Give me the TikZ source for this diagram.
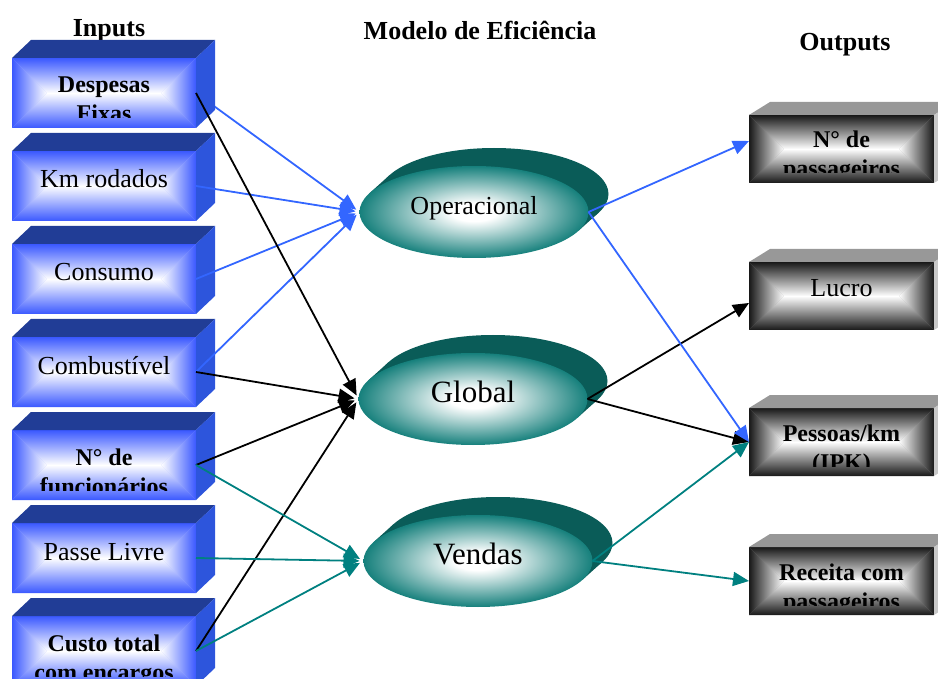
\documentclass[tikz,border=0pt]{standalone}
\usepackage{fontspec}
\setmainfont{Liberation Serif}
\usepackage{tikz}
\usetikzlibrary{positioning,shapes.geometric,arrows.meta,backgrounds}

\definecolor{inedge}{RGB}{58,88,255}
\definecolor{intop}{RGB}{33,61,150}
\definecolor{inside}{RGB}{45,85,220}
\definecolor{outedge}{RGB}{24,24,24}
\definecolor{outtop}{RGB}{152,152,152}
\definecolor{outside}{RGB}{200,200,200}
\definecolor{discrim}{RGB}{22,128,124}
\definecolor{discbody}{RGB}{10,92,88}
\definecolor{lnblue}{RGB}{51,102,255}
\definecolor{lnteal}{RGB}{0,128,128}

% white centre fading out to the edge colour (the path spans 25bp..75bp)
\pgfdeclareverticalshading[faceedge]{facefade}{100bp}{color(0bp)=(white); color(25bp)=(white); color(75bp)=(faceedge); color(100bp)=(faceedge)}
\pgfdeclareradialshading{discfade}{\pgfpoint{0bp}{0bp}}{color(0bp)=(white); color(5bp)=(white); color(25bp)=(discrim); color(50bp)=(discrim)}

% front face: four pieces, each faded towards its own edge
\newcommand{\facefill}[1]{%
  \colorlet{faceedge}{#1}%
  \fill[#1!45!white] (path picture bounding box.south west) rectangle (path picture bounding box.north east);
  \shade[shading=facefade] (path picture bounding box.north west) -- (path picture bounding box.north east)
    -- ([xshift=-35pt]path picture bounding box.east) -- ([xshift=35pt]path picture bounding box.west) -- cycle;
  \shade[shading=facefade, shading angle=180] (path picture bounding box.south west) -- (path picture bounding box.south east)
    -- ([xshift=-35pt]path picture bounding box.east) -- ([xshift=35pt]path picture bounding box.west) -- cycle;
  \shade[shading=facefade, shading angle=90] (path picture bounding box.north west) -- (path picture bounding box.south west)
    -- ([xshift=35pt]path picture bounding box.west) -- cycle;
  \shade[shading=facefade, shading angle=-90] (path picture bounding box.north east) -- (path picture bounding box.south east)
    -- ([xshift=-35pt]path picture bounding box.east) -- cycle;
}

\tikzstyle{inbox}=[%
      rectangle, minimum width=184pt, minimum height=70pt, inner sep=0pt, outer sep=0pt,
      path picture={\facefill{inedge}}
]
\tikzstyle{outbox}=[%
      rectangle, minimum width=185pt, minimum height=68pt, inner sep=0pt, outer sep=0pt,
      path picture={\facefill{outedge}}
]
\tikzstyle{disc}=[%
      ellipse, minimum width=229pt, minimum height=92pt, inner sep=0pt, outer sep=0pt,
      shade, shading=discfade, text height=14pt, text depth=8pt
]
\tikzstyle{plain}=[font=\fontsize{26}{31}\selectfont, anchor=base, inner sep=0pt]
\tikzstyle{heavy}=[font=\bfseries\fontsize{24}{29}\selectfont, anchor=base, align=center, inner sep=0pt]
\tikzstyle{head}=[font=\bfseries\fontsize{26}{31}\selectfont, anchor=base, inner sep=0pt]
\tikzstyle{link}=[line width=1.8pt, -{Triangle[length=16pt,width=14pt]}]

\begin{document}
\begin{tikzpicture}[x=1pt, y=1pt]
\useasboundingbox (0,0) rectangle (938,-679);

\node[head](inhead) at (109,-37){Inputs};
\node[head](modelhead) at (480,-40){Modelo de Eficiência};
\node[head](outhead) at (845,-51){Outputs};

% inputs
\node[inbox](in1) at (104,-93){};
\node[inbox, below=23pt of in1](in2){};
\node[inbox, below=23pt of in2](in3){};
\node[inbox, below=23pt of in3](in4){};
\node[inbox, below=23pt of in4](in5){};
\node[inbox, below=23pt of in5](in6){};
\node[inbox, below=23pt of in6](in7){};

\foreach \b in {in1,in2,in3,in4,in5,in6,in7}{
  \fill[intop] (\b.north west) -- ++(19,18) -- ++(184,0) -- (\b.north east) -- cycle;
  \fill[inside] (\b.north east) -- ++(19,18) -- ++(0,-70) -- (\b.south east) -- cycle;
}

% two-line labels sit on their last line
\begin{scope}
\clip ([yshift=10pt]in1.south west) rectangle ([yshift=20pt]in1.north east);
\node[heavy](in1txt) at ([yshift=-64pt]in1.north){Despesas\\Fixas};
\end{scope}
\node[plain](in2txt) at ([yshift=-37pt]in2.north){Km rodados};
\node[plain](in3txt) at ([yshift=-37pt]in3.north){Consumo};
\node[plain](in4txt) at ([yshift=-37pt]in4.north){Combustível};
\begin{scope}
\clip ([yshift=10pt]in5.south west) rectangle ([yshift=20pt]in5.north east);
\node[heavy](in5txt) at ([yshift=-64pt]in5.north){N° de\\funcionários};
\end{scope}
\node[plain](in6txt) at ([yshift=-37pt]in6.north){Passe Livre};
\begin{scope}
\clip ([yshift=10pt]in7.south west) rectangle ([yshift=20pt]in7.north east);
\node[heavy](in7txt) at ([yshift=-64pt]in7.north){Custo total\\com encargos};
\end{scope}

% efficiency models
\node[disc, font=\fontsize{26}{31}\selectfont](oper) at (474,-212){Operacional};
\node[disc, font=\fontsize{31}{37}\selectfont](glob) at (473,-399){Global};
\node[disc, font=\fontsize{31}{37}\selectfont](vend) at (478,-561){Vendas};

% outputs
\node[outbox](out1) at (841.5,-149){};
\node[outbox](out2) at (841.5,-296){};
\node[outbox](out3) at (841.5,-442){};
\node[outbox](out4) at (841.5,-581){};

\foreach \b in {out1,out2,out3,out4}{
  \fill[outtop] (\b.north west) -- ++(21,13) -- ++(185,0) -- (\b.north east) -- cycle;
  \fill[outside] (\b.north east) -- ++(21,13) -- ++(0,-68) -- (\b.south east) -- cycle;
}

\begin{scope}
\clip ([yshift=10pt]out1.south west) rectangle ([yshift=20pt]out1.north east);
\node[heavy](out1txt) at ([yshift=-62pt]out1.north){N° de\\passageiros};
\end{scope}
\node[plain](out2txt) at ([yshift=-35pt]out2.north){Lucro};
\begin{scope}
\clip ([yshift=10pt]out3.south west) rectangle ([yshift=20pt]out3.north east);
\node[heavy](out3txt) at ([yshift=-62pt]out3.north){Pessoas/km\\(IPK)};
\end{scope}
\begin{scope}
\clip ([yshift=10pt]out4.south west) rectangle ([yshift=20pt]out4.north east);
\node[heavy](out4txt) at ([yshift=-62pt]out4.north){Receita com\\passageiros};
\end{scope}

% dark rims of the discs, and the one line that runs behind its box
\begin{scope}[on background layer]
\foreach \d in {oper,glob,vend}{
  \fill[discbody] (\d.170) -- (\d.350) -- ([shift={(20,18)}]\d.350) -- ([shift={(20,18)}]\d.170) -- cycle;
  \fill[discbody] ([shift={(20,18)}]\d.center) ellipse [x radius=114.5pt, y radius=46pt];
}
\draw[link, lnblue, shorten >=4pt](in1.east) -- (oper.west);
\end{scope}

\begin{scope}[shorten >=4pt]
\draw[link, lnblue](in2.east) -- (oper.west);
\draw[link, lnblue](in3.east) -- (oper.west);
\draw[link, lnblue](in4.east) -- (oper.west);
\draw[link](in1.east) -- (glob.west);
\draw[link](in4.east) -- (glob.west);
\draw[link](in5.east) -- (glob.west);
\draw[link](in7.east) -- (glob.west);
\draw[link, lnteal](in5.east) -- (vend.west);
\draw[link, lnteal](in6.east) -- (vend.west);
\draw[link, lnteal](in7.east) -- (vend.west);
\end{scope}

\draw[link, lnblue](oper.east) -- ([yshift=8pt]out1.west);
\draw[link](glob.east) -- ([yshift=-7pt]out2.west);
\draw[link](glob.east) -- (out3.west);
\draw[link, lnteal](vend.east) -- (out3.west);
\draw[link, lnblue](oper.east) -- (out3.west);
\draw[link, lnteal](vend.east) -- (out4.west);
\end{tikzpicture}
\end{document}
